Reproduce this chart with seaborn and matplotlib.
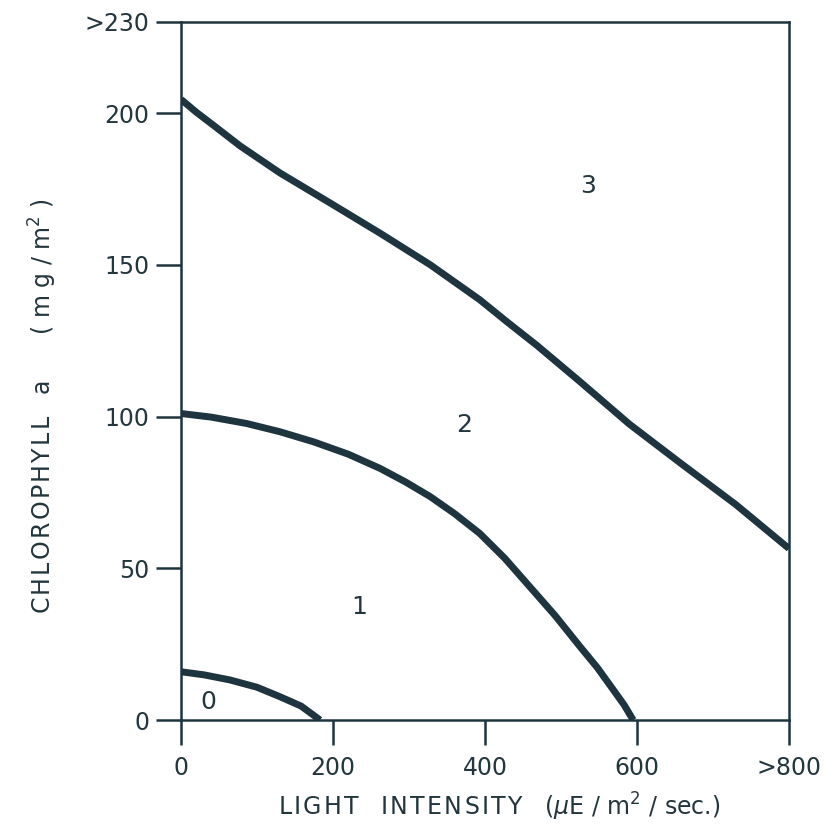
import matplotlib
matplotlib.use("Agg")
import matplotlib.pyplot as plt
import seaborn as sns
import pandas as pd

# Data
curve0_x = [0, 30, 64.5, 100, 130, 158, 183]
curve0_y = [15.9, 14.9, 13.2, 10.8, 7.7, 4.6, 0]

curve1_x = [0, 40, 86.4, 130, 174, 220, 262, 295, 328, 360, 393, 426, 459, 492, 525, 548, 569, 583, 595]
curve1_y = [101, 99.8, 97.7, 95.0, 91.7, 87.6, 82.9, 78.5, 73.6, 68.0, 61.5, 53.3, 43.9, 34.5, 24.2, 17.2, 9.9, 5.0, 0]

curve2_x = [0, 20, 42.5, 77.6, 130, 196, 262, 328, 393, 430, 468, 525, 590, 657, 730, 800]
curve2_y = [204.5, 200.3, 196.0, 189.2, 180.3, 170.4, 160.4, 150.0, 138.5, 131.0, 123.5, 111.5, 97.5, 84.7, 71, 56.5]

region_labels = ["0", "1", "2", "3"]
region_x = [36, 235, 372, 535]
region_y = [6, 37.3, 97.2, 176]

x_ticks = [0, 200, 400, 600, 800]
x_ticklabels = ["0", "200", "400", "600", ">800"]
y_ticks = [0, 50, 100, 150, 200, 230]
y_ticklabels = ["0", "50", "100", "150", "200", ">230"]

ink = "#1e3540"
text_ink = "#24363d"

sns.set_theme(style="white")
plt.rcParams['font.family'] = ['DejaVu Sans']

fig = plt.figure(figsize=(8.38, 8.30), dpi=100)
ax = fig.add_axes([0.216, 0.1325, 0.7255, 0.841])

frames = []
for name, xs, ys in [("c0", curve0_x, curve0_y), ("c1", curve1_x, curve1_y), ("c2", curve2_x, curve2_y)]:
    frames.append(pd.DataFrame({"x": xs, "y": ys, "curve": name}))
df = pd.concat(frames, ignore_index=True)

for name, sub in df.groupby("curve"):
    sns.lineplot(data=sub, x="x", y="y", ax=ax, color=ink, linewidth=5.0,
                 sort=False, estimator=None, solid_capstyle="butt",
                 solid_joinstyle="round")

for lab, xv, yv in zip(region_labels, region_x, region_y):
    ax.text(xv, yv, lab, fontsize=18, color=text_ink, ha="center", va="center")

ax.set_xlim(0, 800)
ax.set_ylim(0, 230)
ax.set_xticks(x_ticks)
ax.set_xticklabels(x_ticklabels)
ax.set_yticks(y_ticks)
ax.set_yticklabels(y_ticklabels)

for s in ax.spines.values():
    s.set_visible(True)
    s.set_color(ink)
    s.set_linewidth(1.8)

ax.tick_params(axis="both", which="major", bottom=True, left=True,
               direction="out", length=18, width=1.8, color=ink,
               labelsize=17, labelcolor=text_ink, pad=5)
ax.tick_params(axis="x", pad=8)

hs = "\u200a"
def spaced(word):
    return hs.join(list(word))

xlabel = spaced("LIGHT") + "   " + spaced("INTENSITY") + "   (" + "$\\mu$E / m$^2$ / sec.)"
ylabel = spaced("CHLOROPHYLL") + "   a      ( m g / m$^2$ )"
ax.set_xlabel(xlabel, fontsize=17, color=text_ink)
ax.set_ylabel(ylabel, fontsize=17, color=text_ink)
ax.xaxis.label.set_va("center")
ax.xaxis.set_label_coords(0.523, -0.124)
ax.yaxis.set_label_coords(-0.2, 0.45)

fig.savefig("out.png", dpi=100, facecolor="white")
